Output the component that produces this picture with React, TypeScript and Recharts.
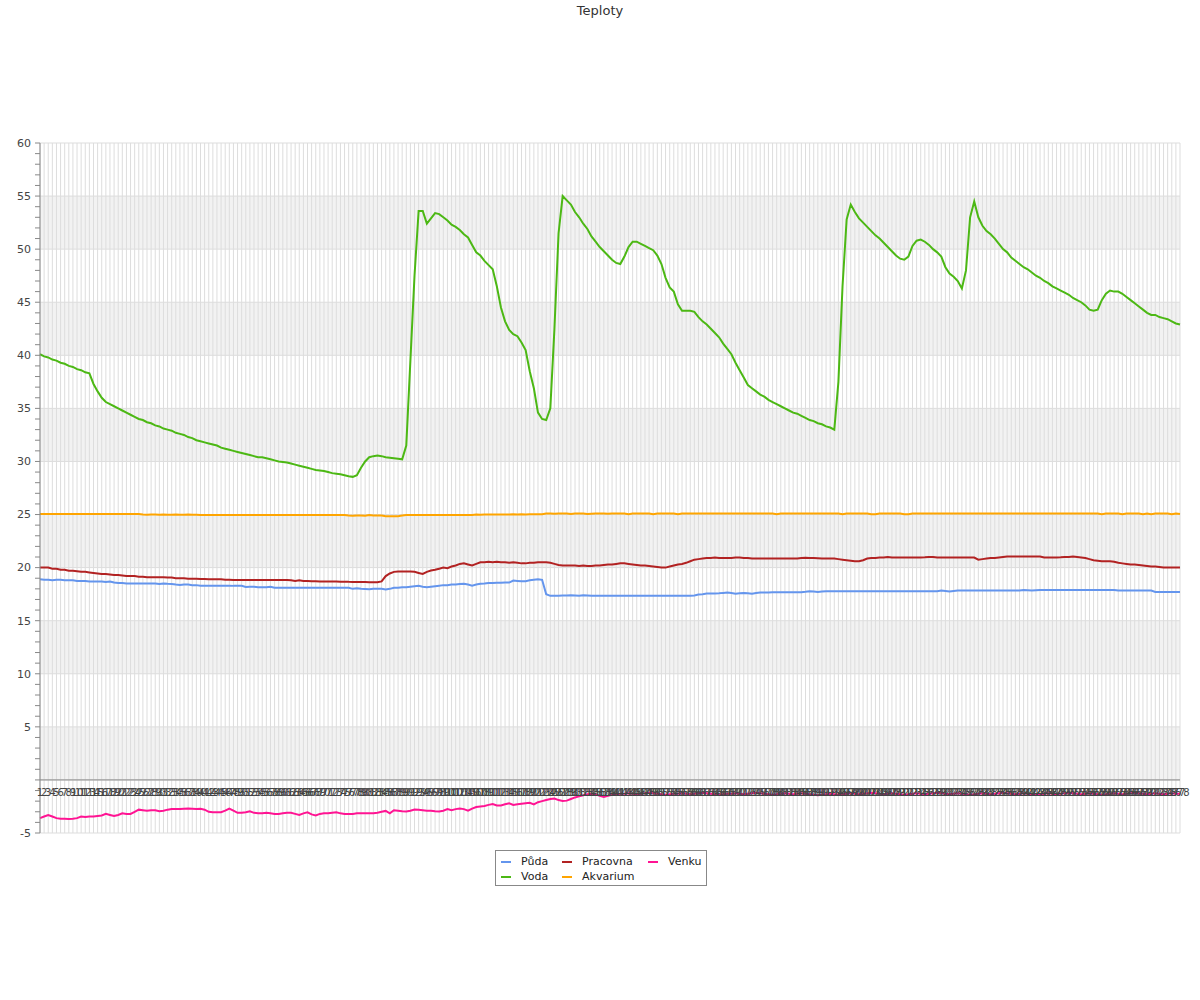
import React from "react";
import { LineChart, Line, XAxis, YAxis, CartesianGrid, ReferenceLine } from "recharts";

// teploty po jednotlivych merenich (1..278)
const puda = [
  18.9, 18.85, 18.85, 18.8, 18.85, 18.85, 18.8, 18.8, 18.8, 18.75,
  18.75, 18.75, 18.7, 18.7, 18.7, 18.7, 18.65, 18.7, 18.6, 18.55,
  18.55, 18.5, 18.5, 18.5, 18.5, 18.5, 18.5, 18.5, 18.5, 18.45,
  18.5, 18.47, 18.45, 18.4, 18.37, 18.4, 18.4, 18.35, 18.35, 18.3,
  18.3, 18.3, 18.3, 18.3, 18.3, 18.3, 18.3, 18.28, 18.28, 18.28,
  18.18, 18.2, 18.2, 18.15, 18.15, 18.15, 18.2, 18.1, 18.1, 18.1,
  18.1, 18.1, 18.1, 18.1, 18.1, 18.1, 18.1, 18.1, 18.1, 18.1,
  18.1, 18.1, 18.1, 18.1, 18.1, 18.1, 18.0, 18.05, 18.0, 17.98,
  17.96, 18.0, 18.0, 18.0, 17.95, 18.0, 18.1, 18.1, 18.15, 18.15,
  18.2, 18.25, 18.28, 18.2, 18.15, 18.2, 18.25, 18.3, 18.35, 18.35,
  18.4, 18.4, 18.45, 18.47, 18.4, 18.3, 18.4, 18.47, 18.5, 18.55,
  18.56, 18.57, 18.58, 18.59, 18.59, 18.78, 18.75, 18.72, 18.72, 18.8,
  18.85, 18.9, 18.85, 17.5, 17.34, 17.34, 17.36, 17.37, 17.37, 17.4,
  17.38, 17.35, 17.4, 17.38, 17.35, 17.34, 17.34, 17.34, 17.34, 17.34,
  17.34, 17.34, 17.34, 17.34, 17.34, 17.34, 17.34, 17.34, 17.34, 17.34,
  17.34, 17.34, 17.34, 17.34, 17.34, 17.34, 17.34, 17.34, 17.34, 17.38,
  17.46, 17.5, 17.55, 17.56, 17.57, 17.58, 17.62, 17.65, 17.6, 17.55,
  17.58, 17.6, 17.58, 17.55, 17.6, 17.65, 17.66, 17.66, 17.67, 17.67,
  17.67, 17.68, 17.68, 17.68, 17.68, 17.68, 17.72, 17.77, 17.74, 17.71,
  17.74, 17.77, 17.77, 17.77, 17.77, 17.77, 17.77, 17.77, 17.77, 17.77,
  17.77, 17.77, 17.77, 17.77, 17.77, 17.77, 17.77, 17.77, 17.77, 17.77,
  17.77, 17.77, 17.77, 17.77, 17.77, 17.77, 17.77, 17.77, 17.77, 17.84,
  17.8, 17.74, 17.8, 17.84, 17.84, 17.84, 17.84, 17.84, 17.84, 17.84,
  17.84, 17.84, 17.84, 17.84, 17.84, 17.84, 17.84, 17.84, 17.84, 17.9,
  17.87, 17.84, 17.87, 17.9, 17.9, 17.9, 17.9, 17.9, 17.9, 17.9,
  17.9, 17.9, 17.9, 17.9, 17.9, 17.9, 17.9, 17.9, 17.9, 17.9,
  17.9, 17.9, 17.84, 17.84, 17.84, 17.84, 17.84, 17.84, 17.84, 17.84,
  17.84, 17.71, 17.71, 17.71, 17.71, 17.71, 17.71, 17.71,
];

const voda = [
  40.1, 39.9, 39.8, 39.6, 39.5, 39.3, 39.2, 39.0, 38.9, 38.7,
  38.6, 38.4, 38.3, 37.3, 36.6, 36.0, 35.6, 35.4, 35.2, 35.0,
  34.8, 34.6, 34.4, 34.2, 34.0, 33.9, 33.7, 33.6, 33.4, 33.3,
  33.1, 33.0, 32.9, 32.7, 32.6, 32.5, 32.3, 32.2, 32.0, 31.9,
  31.8, 31.7, 31.6, 31.5, 31.3, 31.2, 31.1, 31.0, 30.9, 30.8,
  30.7, 30.6, 30.5, 30.4, 30.4, 30.3, 30.2, 30.1, 30.0, 29.95,
  29.9, 29.8, 29.7, 29.6, 29.5, 29.4, 29.3, 29.2, 29.15, 29.1,
  29.0, 28.9, 28.85, 28.8, 28.7, 28.6, 28.55, 28.7, 29.4, 30.0,
  30.4, 30.5, 30.55, 30.5, 30.4, 30.35, 30.3, 30.25, 30.2, 31.5,
  39.5, 47.5, 53.6, 53.6, 52.4, 52.9, 53.4, 53.3, 53.0, 52.7,
  52.3, 52.1, 51.8, 51.4, 51.1, 50.4, 49.7, 49.4, 48.9, 48.5,
  48.1, 46.5, 44.5, 43.2, 42.4, 42.0, 41.8, 41.2, 40.5, 38.5,
  36.9, 34.6, 34.0, 33.9, 35.0, 42.5, 51.5, 55.0, 54.6, 54.2,
  53.5, 53.0, 52.4, 51.9, 51.2, 50.7, 50.2, 49.8, 49.4, 49.0,
  48.7, 48.6, 49.3, 50.2, 50.7, 50.7, 50.5, 50.3, 50.1, 49.9,
  49.4, 48.6, 47.3, 46.4, 46.0, 44.8, 44.2, 44.2, 44.2, 44.1,
  43.6, 43.2, 42.9, 42.5, 42.1, 41.7, 41.1, 40.6, 40.1, 39.3,
  38.6, 37.9, 37.2, 36.9, 36.6, 36.3, 36.1, 35.8, 35.6, 35.4,
  35.2, 35.0, 34.8, 34.6, 34.5, 34.3, 34.1, 33.9, 33.8, 33.6,
  33.5, 33.3, 33.2, 33.0, 37.5, 46.5, 52.8, 54.2, 53.5, 52.9,
  52.5, 52.1, 51.7, 51.3, 51.0, 50.6, 50.2, 49.8, 49.4, 49.1,
  49.0, 49.3, 50.3, 50.8, 50.9, 50.7, 50.4, 50.0, 49.7, 49.3,
  48.3, 47.7, 47.4, 47.0, 46.3, 48.0, 53.0, 54.5, 53.0, 52.2,
  51.7, 51.4, 51.0, 50.5, 50.0, 49.7, 49.2, 48.9, 48.6, 48.3,
  48.1, 47.8, 47.5, 47.3, 47.0, 46.8, 46.5, 46.3, 46.1, 45.9,
  45.7, 45.4, 45.2, 45.0, 44.7, 44.3, 44.2, 44.3, 45.2, 45.8,
  46.1, 46.0, 46.0, 45.8, 45.5, 45.2, 44.9, 44.6, 44.3, 44.0,
  43.8, 43.8, 43.6, 43.5, 43.4, 43.2, 43.0, 42.9,
];

const pracovna = [
  20.0, 20.0, 20.0, 19.9, 19.9, 19.8, 19.8, 19.7, 19.7, 19.65,
  19.6, 19.6, 19.55, 19.5, 19.45, 19.4, 19.4, 19.35, 19.3, 19.3,
  19.25, 19.2, 19.2, 19.2, 19.15, 19.15, 19.1, 19.1, 19.1, 19.1,
  19.1, 19.06, 19.06, 19.0, 19.0, 19.0, 18.95, 18.95, 18.95, 18.93,
  18.93, 18.9, 18.9, 18.9, 18.9, 18.85, 18.85, 18.84, 18.84, 18.84,
  18.84, 18.84, 18.84, 18.84, 18.84, 18.84, 18.84, 18.84, 18.84, 18.84,
  18.84, 18.8, 18.75, 18.8, 18.75, 18.75, 18.72, 18.72, 18.7, 18.7,
  18.7, 18.69, 18.69, 18.68, 18.68, 18.66, 18.65, 18.65, 18.64, 18.64,
  18.63, 18.63, 18.62, 18.7, 19.2, 19.45, 19.6, 19.63, 19.63, 19.63,
  19.63, 19.6, 19.5, 19.4, 19.6, 19.72, 19.8, 19.9, 20.0, 19.95,
  20.1, 20.2, 20.35, 20.4, 20.3, 20.2, 20.35, 20.5, 20.5, 20.55,
  20.5, 20.55, 20.5, 20.5, 20.45, 20.5, 20.45, 20.4, 20.4, 20.45,
  20.45, 20.5, 20.5, 20.5, 20.45, 20.35, 20.25, 20.2, 20.2, 20.2,
  20.2, 20.15, 20.2, 20.15, 20.15, 20.2, 20.2, 20.25, 20.3, 20.3,
  20.35, 20.4, 20.4, 20.35, 20.3, 20.25, 20.2, 20.2, 20.15, 20.1,
  20.05, 20.0, 20.0, 20.1, 20.2, 20.3, 20.35, 20.45, 20.6, 20.75,
  20.8, 20.85, 20.9, 20.9, 20.95, 20.9, 20.9, 20.9, 20.9, 20.95,
  20.95, 20.9, 20.9, 20.85, 20.85, 20.85, 20.85, 20.85, 20.85, 20.85,
  20.85, 20.85, 20.85, 20.85, 20.85, 20.9, 20.92, 20.9, 20.9, 20.88,
  20.86, 20.85, 20.85, 20.85, 20.8, 20.75, 20.7, 20.65, 20.6, 20.6,
  20.7, 20.85, 20.9, 20.9, 20.95, 20.95, 21.0, 20.95, 20.95, 20.95,
  20.95, 20.95, 20.95, 20.95, 20.95, 20.97, 21.0, 21.0, 20.95, 20.95,
  20.95, 20.95, 20.95, 20.95, 20.95, 20.95, 20.95, 20.95, 20.75, 20.8,
  20.85, 20.9, 20.9, 20.95, 21.0, 21.05, 21.05, 21.05, 21.05, 21.05,
  21.05, 21.05, 21.05, 21.05, 20.95, 20.95, 20.95, 20.95, 20.97, 21.0,
  21.0, 21.05, 21.0, 20.95, 20.9, 20.8, 20.7, 20.65, 20.6, 20.6,
  20.6, 20.55, 20.45, 20.4, 20.35, 20.3, 20.3, 20.25, 20.2, 20.15,
  20.1, 20.1, 20.05, 20.0, 20.0, 20.0, 20.0, 20.0,
];

const akvarium = [
  25.05, 25.05, 25.05, 25.05, 25.05, 25.05, 25.05, 25.05, 25.05, 25.05,
  25.05, 25.05, 25.05, 25.05, 25.05, 25.05, 25.05, 25.05, 25.05, 25.05,
  25.05, 25.05, 25.05, 25.05, 25.05, 25.0, 24.98, 25.0, 25.0, 24.98,
  25.0, 24.98, 24.98, 25.0, 24.98, 24.98, 25.0, 24.98, 24.98, 24.95,
  24.95, 24.95, 24.95, 24.95, 24.95, 24.95, 24.95, 24.95, 24.95, 24.95,
  24.95, 24.95, 24.95, 24.95, 24.95, 24.95, 24.95, 24.95, 24.95, 24.95,
  24.95, 24.95, 24.95, 24.95, 24.95, 24.95, 24.95, 24.95, 24.95, 24.95,
  24.95, 24.95, 24.95, 24.95, 24.95, 24.9, 24.88, 24.92, 24.9, 24.88,
  24.95, 24.9, 24.92, 24.9, 24.85, 24.85, 24.85, 24.85, 24.9, 24.95,
  24.95, 24.95, 24.95, 24.95, 24.95, 24.95, 24.95, 24.95, 24.95, 24.95,
  24.95, 24.95, 24.95, 24.95, 24.95, 24.95, 25.0, 24.98, 25.0, 25.0,
  25.0, 25.0, 25.0, 25.0, 25.0, 25.03, 25.0, 25.03, 25.0, 25.03,
  25.03, 25.03, 25.03, 25.1, 25.1, 25.08, 25.1, 25.1, 25.1, 25.05,
  25.1, 25.1, 25.1, 25.05, 25.08, 25.1, 25.1, 25.1, 25.08, 25.1,
  25.1, 25.1, 25.1, 25.02, 25.1, 25.1, 25.1, 25.1, 25.1, 25.02,
  25.1, 25.1, 25.1, 25.1, 25.1, 25.02, 25.1, 25.1, 25.1, 25.1,
  25.1, 25.1, 25.1, 25.1, 25.1, 25.1, 25.1, 25.1, 25.1, 25.1,
  25.1, 25.1, 25.1, 25.1, 25.1, 25.1, 25.1, 25.1, 25.1, 25.02,
  25.1, 25.1, 25.1, 25.1, 25.1, 25.1, 25.1, 25.1, 25.1, 25.1,
  25.1, 25.1, 25.1, 25.1, 25.1, 25.02, 25.1, 25.1, 25.1, 25.1,
  25.1, 25.1, 25.02, 25.02, 25.1, 25.1, 25.1, 25.1, 25.1, 25.1,
  25.02, 25.02, 25.1, 25.1, 25.1, 25.1, 25.1, 25.1, 25.1, 25.1,
  25.1, 25.1, 25.1, 25.1, 25.1, 25.1, 25.1, 25.1, 25.1, 25.1,
  25.1, 25.1, 25.1, 25.1, 25.1, 25.1, 25.1, 25.1, 25.1, 25.1,
  25.1, 25.1, 25.1, 25.1, 25.1, 25.1, 25.1, 25.1, 25.1, 25.1,
  25.1, 25.1, 25.1, 25.1, 25.1, 25.1, 25.1, 25.1, 25.02, 25.1,
  25.1, 25.1, 25.1, 25.02, 25.1, 25.1, 25.1, 25.1, 25.02, 25.1,
  25.02, 25.1, 25.1, 25.1, 25.1, 25.02, 25.1, 25.05,
];

const venku = [
  -3.6, -3.45, -3.3, -3.45, -3.6, -3.65, -3.65, -3.67, -3.65, -3.6,
  -3.45, -3.5, -3.45, -3.45, -3.4, -3.35, -3.2, -3.3, -3.4, -3.3,
  -3.15, -3.2, -3.2, -3.0, -2.8, -2.85, -2.9, -2.85, -2.85, -2.95,
  -2.9, -2.8, -2.75, -2.75, -2.75, -2.72, -2.7, -2.72, -2.75, -2.72,
  -2.8, -3.0, -3.05, -3.05, -3.05, -2.9, -2.7, -2.9, -3.1, -3.1,
  -3.05, -2.95, -3.1, -3.15, -3.15, -3.1, -3.15, -3.2, -3.2, -3.15,
  -3.1, -3.1, -3.2, -3.3, -3.15, -3.05, -3.25, -3.35, -3.2, -3.15,
  -3.15, -3.1, -3.05, -3.15, -3.2, -3.2, -3.2, -3.15, -3.15, -3.15,
  -3.15, -3.14, -3.1, -3.0, -2.92, -3.14, -2.85, -2.9, -2.95, -2.98,
  -2.9, -2.78, -2.8, -2.85, -2.9, -2.9, -2.95, -2.98, -2.9, -2.75,
  -2.85, -2.75, -2.7, -2.75, -2.9, -2.7, -2.55, -2.5, -2.45, -2.35,
  -2.28, -2.4, -2.4, -2.3, -2.2, -2.35, -2.3, -2.25, -2.2, -2.15,
  -2.3, -2.1, -2.0, -1.9, -1.8, -1.75, -1.9, -1.98, -1.95, -1.8,
  -1.65, -1.55, -1.45, -1.35, -1.3, -1.35, -1.5, -1.6, -1.5, -1.4,
  -1.35, -1.3, -1.3, -1.25, -1.3, -1.35, -1.3, -1.25, -1.2, -1.25,
  -1.3, -1.35, -1.4, -1.35, -1.3, -1.3, -1.25, -1.3, -1.35, -1.3,
  -1.25, -1.2, -1.25, -1.3, -1.35, -1.4, -1.35, -1.3, -1.3, -1.25,
  -1.3, -1.35, -1.3, -1.25, -1.2, -1.25, -1.3, -1.35, -1.4, -1.35,
  -1.3, -1.25, -1.3, -1.35, -1.3, -1.25, -1.3, -1.35, -1.4, -1.45,
  -1.4, -1.35, -1.3, -1.35, -1.4, -1.35, -1.3, -1.25, -1.3, -1.35,
  -1.3, -1.25, -1.2, -1.25, -1.3, -1.35, -1.3, -1.25, -1.3, -1.35,
  -1.4, -1.35, -1.3, -1.25, -1.3, -1.35, -1.3, -1.25, -1.2, -1.25,
  -1.3, -1.35, -1.3, -1.25, -1.3, -1.35, -1.4, -1.35, -1.3, -1.25,
  -1.3, -1.35, -1.3, -1.25, -1.2, -1.25, -1.3, -1.35, -1.3, -1.25,
  -1.3, -1.35, -1.4, -1.35, -1.3, -1.25, -1.3, -1.35, -1.3, -1.25,
  -1.2, -1.25, -1.3, -1.35, -1.3, -1.25, -1.3, -1.35, -1.4, -1.35,
  -1.3, -1.25, -1.3, -1.35, -1.3, -1.25, -1.2, -1.25, -1.3, -1.35,
  -1.3, -1.25, -1.3, -1.35, -1.3, -1.25, -1.3, -1.3,
];

// popisky osy x = poradove cislo mereni
const labels = voda.map((_, i) => String(i + 1));

// poradi odpovida legende (sloupce po dvou radcich)
const series = [
  { key: "puda", name: "Půda", color: "#6495ed" },
  { key: "voda", name: "Voda", color: "#4cb814" },
  { key: "pracovna", name: "Pracovna", color: "#b22222" },
  { key: "akvarium", name: "Akvarium", color: "#ffa500" },
  { key: "venku", name: "Venku", color: "#ff1493" },
];

const data = labels.map((label, i) => ({
  label,
  puda: puda[i],
  voda: voda[i],
  pracovna: pracovna[i],
  akvarium: akvarium[i],
  venku: venku[i],
}));

const Y_MIN = -5;
const Y_MAX = 60;
const yTicks: number[] = [];
for (let v = Y_MIN; v <= Y_MAX; v++) yTicks.push(v);
const gridValues = yTicks.filter((v) => v % 5 === 0);

const FONT = "'DejaVu Sans', Verdana, sans-serif";
const CHART_W = 1200;
const CHART_H = 900;
const MARGIN = { top: 143, right: 20, bottom: 37, left: 0 };
const X_AXIS_H = 30;
const plotBottom = CHART_H - MARGIN.bottom - X_AXIS_H;
const plotH = plotBottom - MARGIN.top;
// osa x lezi na nule, ne na spodnim okraji
const zeroY = MARGIN.top + (plotH * Y_MAX) / (Y_MAX - Y_MIN);

const renderXTick = (props: any) => {
  const { x, payload } = props;
  return (
    <text x={x} y={zeroY + 16} textAnchor="middle" fontSize={10} fill="#444" fontFamily={FONT}>
      {payload.value}
    </text>
  );
};

const renderYTick = (props: any) => {
  const { x, y, payload } = props;
  const v = payload.value;
  if (v % 5 !== 0 || v === 0) return <g />;
  return (
    <text x={x} y={y} dy="0.35em" textAnchor="end" fontSize={11} fill="#444" fontFamily={FONT}>
      {v}
    </text>
  );
};

function LegendBox() {
  return (
    <div
      style={{
        position: "absolute",
        left: 495,
        top: 850,
        width: 212,
        height: 36,
        boxSizing: "border-box",
        border: "1px solid #888",
        background: "#fff",
        padding: "3px 0 0 5px",
        display: "grid",
        gridAutoFlow: "column",
        gridTemplateRows: "15px 15px",
        gridTemplateColumns: "61px 86px auto",
        fontFamily: FONT,
        fontSize: 11,
        color: "#222",
      }}
    >
      {series.map((s) => (
        <div key={s.key} style={{ display: "flex", alignItems: "center", whiteSpace: "nowrap" }}>
          <span style={{ display: "inline-block", width: 10, height: 2, background: s.color, marginRight: 10 }} />
          {s.name}
        </div>
      ))}
    </div>
  );
}

export default function App() {
  return (
    <div style={{ position: "absolute", left: 0, top: 0, width: 1200, height: 1000, background: "#fff", fontFamily: FONT }}>
      <div
        style={{
          position: "absolute",
          top: 3,
          left: 0,
          width: CHART_W,
          textAlign: "center",
          fontSize: 13,
          lineHeight: "16px",
          color: "#333",
        }}
      >
        Teploty
      </div>
      <div style={{ position: "absolute", left: 0, top: 0 }}>
        <LineChart width={CHART_W} height={CHART_H} data={data} margin={MARGIN}>
          <CartesianGrid
            stroke="#dddddd"
            horizontalValues={gridValues}
            horizontalFill={["#ffffff", "#f2f2f2"]}
          />
          <YAxis
            type="number"
            domain={[Y_MIN, Y_MAX]}
            ticks={yTicks}
            interval={0}
            width={40}
            tickSize={5}
            tickMargin={4}
            axisLine={{ stroke: "#888" }}
            tickLine={{ stroke: "#888" }}
            tick={renderYTick}
          />
          <ReferenceLine y={0} stroke="#888" />
          {series.map((s) => (
            <Line
              key={s.key}
              type="linear"
              dataKey={s.key}
              name={s.name}
              stroke={s.color}
              strokeWidth={2}
              dot={false}
              isAnimationActive={false}
            />
          ))}
          {/* popisky maji byt nad carami jako v originale */}
          <XAxis
            dataKey="label"
            interval={0}
            height={X_AXIS_H}
            tickLine={false}
            axisLine={false}
            tick={renderXTick}
            zIndex={1000}
          />
        </LineChart>
      </div>
      <LegendBox />
    </div>
  );
}
